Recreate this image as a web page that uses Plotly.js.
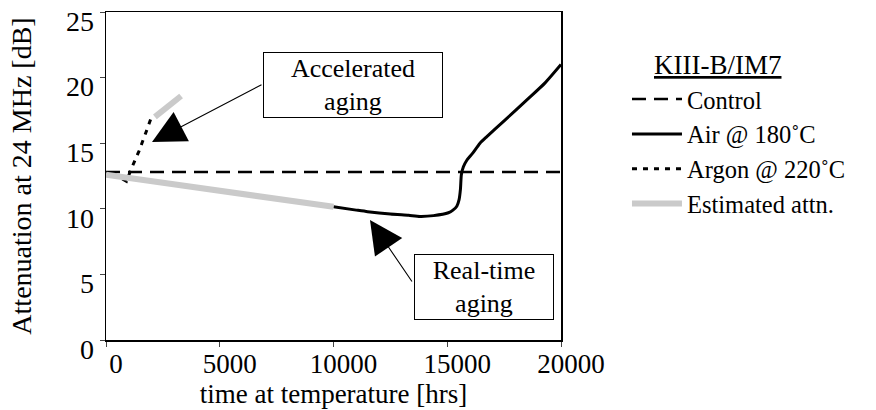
<!DOCTYPE html>
<html><head><meta charset="utf-8">
<script src="https://cdn.plot.ly/plotly-3.0.1.min.js"></script>
<style>html,body{margin:0;padding:0;background:#fff}#chart{width:876px;height:410px}</style>
</head><body><div id="chart"></div>
<script>
const controlX = [0, 20000];
const controlY = [12.8, 12.8];
const airX = [10000, 11000, 11500, 12500, 13300, 13800, 14400, 15050, 15250, 15420, 15520, 15580, 15620, 15710, 15860, 16100, 16440, 16740, 17500, 18500, 19300, 20000];
const airY = [10.15, 9.9, 9.78, 9.6, 9.5, 9.42, 9.48, 9.7, 9.9, 10.2, 10.7, 11.5, 12.6, 13.2, 13.7, 14.2, 15.0, 15.5, 16.7, 18.3, 19.6, 21.0];
const argonX = [300, 900, 1100, 1450, 1750, 2000];
const argonY = [12.7, 12.1, 13.0, 14.4, 15.8, 17.0];
const estX = [0, 10000, null, 2150, 3300];
const estY = [12.6, 10.15, null, 17.0, 18.6];
const seriesNames = ['Control', 'Air @ 180˚C', 'Argon @ 220˚C', 'Estimated attn.'];
const xTickVals = [0, 5000, 10000, 15000, 20000];
const xTickText = ['0', '5000', '10000', '15000', '20000'];
const yTickVals = [0, 5, 10, 15, 20, 25];
const legendTitle = 'KIII-B/IM7';
const xTitle = 'time at temperature [hrs]';
const yTitle = 'Attenuation at 24 MHz [dB]';
const noteAccel = 'Accelerated<br>aging';
const noteReal = 'Real-time<br>aging';

const F = "'Liberation Serif', 'Times New Roman', serif";
const traces = [
  {x: controlX, y: controlY, name: seriesNames[0], mode: 'lines', line: {color: '#000', width: 2.5, dash: '14px,8px'}},
  {x: airX, y: airY, name: seriesNames[1], mode: 'lines', line: {color: '#000', width: 3, shape: 'spline', smoothing: 0.6}},
  {x: argonX, y: argonY, name: seriesNames[2], mode: 'lines', line: {color: '#000', width: 3, dash: '5px,6px'}},
  {x: estX, y: estY, name: seriesNames[3], mode: 'lines', connectgaps: false, line: {color: '#cacaca', width: 6}}
];
function note(t, x, y, w, h) {
  return {x: x, y: y, xref: 'x', yref: 'y', text: t, showarrow: false, font: {family: F, size: 26},
    bgcolor: '#fff', bordercolor: '#000', borderwidth: 1, borderpad: 0, width: w, height: h};
}
function arrow(x, y, ax, ay) {
  return {x: x, y: y, xref: 'x', yref: 'y', text: '', showarrow: true, ax: ax, ay: ay,
    arrowhead: 2, arrowsize: 6, arrowwidth: 1.1, arrowcolor: '#000', font: {size: 1}};
}
const layout = {
  width: 876, height: 410,
  margin: {l: 106, r: 315, t: 12, b: 70},
  paper_bgcolor: '#fff', plot_bgcolor: '#fff',
  font: {family: F, color: '#000', size: 28},
  showlegend: true,
  legend: {x: 1.145, y: 0.803, xanchor: 'left', yanchor: 'top', font: {family: F, size: 24.5},
    itemwidth: 50, tracegroupgap: 0, bgcolor: 'rgba(0,0,0,0)'},
  xaxis: {range: [0, 20000], tickvals: xTickVals, ticktext: xTickText, ticks: 'outside', ticklen: 5,
    ticklabelshift: 10, ticklabelstandoff: -6,
    showline: true, linecolor: '#000', linewidth: 1.5, mirror: true, showgrid: false, zeroline: false,
    tickfont: {family: F, size: 27}, title: {text: xTitle, font: {family: F, size: 27}, standoff: 4}},
  yaxis: {range: [0, 25], tickvals: yTickVals, ticks: 'outside', ticklen: 5,
    ticklabelshift: 9,
    showline: true, linecolor: '#000', linewidth: 1.5, mirror: true, showgrid: false, zeroline: false,
    tickfont: {family: F, size: 28}, title: {text: yTitle, font: {family: F, size: 28}, standoff: 26}},
  annotations: [
    note(noteAccel, 10857, 19.44, 178, 64),
    note(noteReal, 16615, 4.04, 138, 64),
    arrow(2022, 15.09, 111, -58),
    arrow(11604, 9.15, 43, 63),
    {x: 1.343, y: 0.838, xref: 'paper', yref: 'paper', xanchor: 'center', yanchor: 'middle',
     text: '<u>' + legendTitle + '</u>', showarrow: false, font: {family: F, size: 27}}
  ]
};
Plotly.newPlot('chart', traces, layout, {displayModeBar: false, staticPlot: true});
</script></body></html>
